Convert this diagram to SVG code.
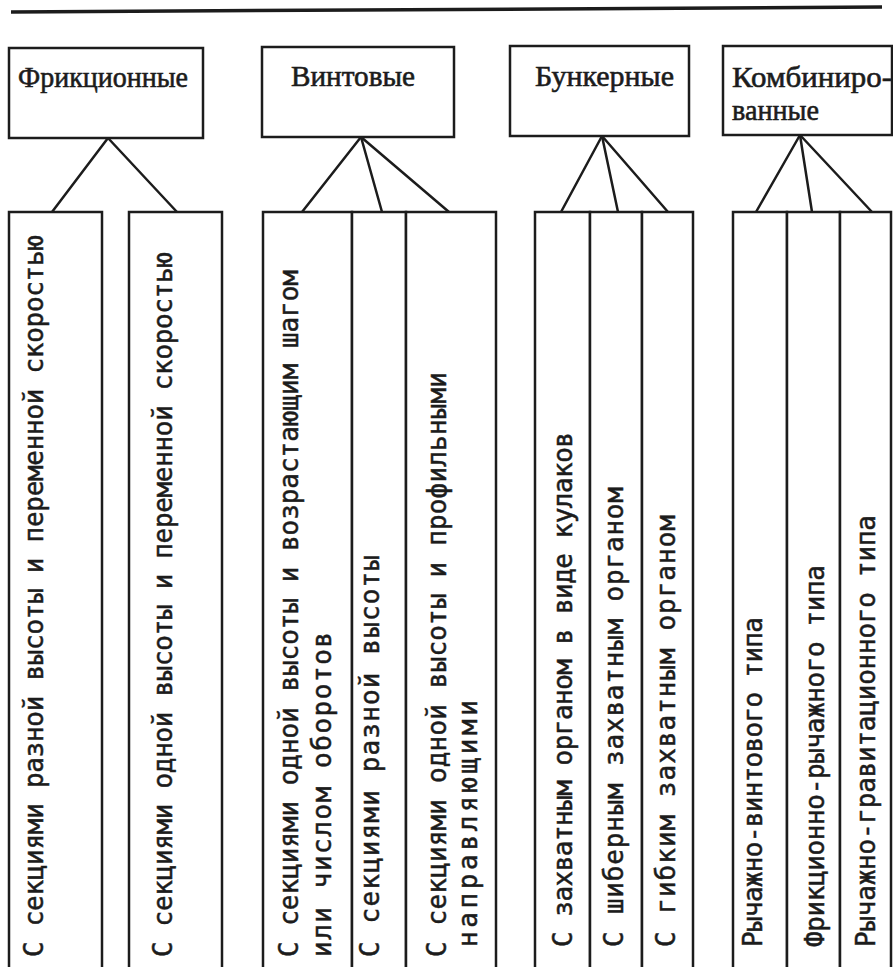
<svg xmlns="http://www.w3.org/2000/svg" width="893" height="967" viewBox="0 0 893 967">
<style>
.frame{fill:#ffffff;stroke:#1c1c1c;stroke-width:2.5}
.conn{stroke:#1c1c1c;stroke-width:2.5;fill:none;stroke-linecap:round}
.hdr{font-family:"Liberation Serif","Times New Roman",serif;font-size:30px;fill:#1c1c1c;stroke:#1c1c1c;stroke-width:0.6}
.col{font-family:"DejaVu Sans Mono","Liberation Mono",monospace;font-size:26px;fill:#1c1c1c;stroke:#1c1c1c;stroke-width:0.5}
</style>
<rect x="0" y="0" width="893" height="967" fill="#ffffff"/>
<line x1="11" y1="12" x2="882" y2="7" stroke="#1c1c1c" stroke-width="3.5"/>

<g id="connectors">
<line class="conn" x1="108" y1="138" x2="52" y2="212"/>
<line class="conn" x1="108" y1="138" x2="177" y2="212"/>
<line class="conn" x1="361" y1="137" x2="302" y2="212"/>
<line class="conn" x1="361" y1="137" x2="382" y2="212"/>
<line class="conn" x1="361" y1="137" x2="449" y2="212"/>
<line class="conn" x1="602" y1="136" x2="561" y2="212"/>
<line class="conn" x1="602" y1="136" x2="618" y2="212"/>
<line class="conn" x1="602" y1="136" x2="668" y2="212"/>
<line class="conn" x1="800" y1="135" x2="756" y2="212"/>
<line class="conn" x1="800" y1="135" x2="812" y2="212"/>
<line class="conn" x1="800" y1="135" x2="872" y2="212"/>
</g>

<g id="node-friction">
<rect class="frame" x="9" y="48" width="194" height="90"/>
<text class="hdr" x="18" y="87" textLength="170" lengthAdjust="spacingAndGlyphs">Фрикционные</text>
</g>
<g id="node-screw">
<rect class="frame" x="262" y="47" width="192" height="90"/>
<text class="hdr" x="291" y="86" textLength="124" lengthAdjust="spacingAndGlyphs">Винтовые</text>
</g>
<g id="node-bunker">
<rect class="frame" x="510" y="46" width="179" height="90"/>
<text class="hdr" x="535" y="86" textLength="139" lengthAdjust="spacingAndGlyphs">Бункерные</text>
</g>
<g id="node-combined">
<rect class="frame" x="723" y="46" width="169" height="89"/>
<text class="hdr" x="732" y="87" textLength="160" lengthAdjust="spacingAndGlyphs">Комбиниро-</text>
<text class="hdr" x="732" y="120" textLength="87" lengthAdjust="spacingAndGlyphs">ванные</text>
</g>

<g id="col-f1">
<rect class="frame" x="9" y="212" width="93" height="760"/>
<text class="col" transform="translate(43,957) rotate(-90)" textLength="722">С секциями разной высоты и переменной скоростью</text>
</g>
<g id="col-f2">
<rect class="frame" x="129" y="212" width="93" height="760"/>
<text class="col" transform="translate(172,957) rotate(-90)" textLength="705">С секциями одной высоты и переменной скоростью</text>
</g>

<g id="col-s1">
<rect class="frame" x="263" y="212" width="89" height="760"/>
<text class="col" transform="translate(298,957) rotate(-90)" textLength="687">С секциями одной высоты и возрастающим шагом</text>
<text class="col" transform="translate(331,957) rotate(-90)" textLength="325">или числом оборотов</text>
</g>
<g id="col-s2">
<rect class="frame" x="352" y="212" width="54" height="760"/>
<text class="col" transform="translate(379,957) rotate(-90)" textLength="402">С секциями разной высоты</text>
</g>
<g id="col-s3">
<rect class="frame" x="406" y="212" width="90" height="760"/>
<text class="col" transform="translate(446,957) rotate(-90)" textLength="585">С секциями одной высоты и профильными</text>
<text class="col" transform="translate(477,947) rotate(-90)" textLength="247">направляющими</text>
</g>

<g id="col-b1">
<rect class="frame" x="535" y="212" width="55" height="760"/>
<text class="col" transform="translate(572,947) rotate(-90)" textLength="515">С захватным органом в виде кулаков</text>
</g>
<g id="col-b2">
<rect class="frame" x="590" y="212" width="52" height="760"/>
<text class="col" transform="translate(623,947) rotate(-90)" textLength="460">С шиберным захватным органом</text>
</g>
<g id="col-b3">
<rect class="frame" x="642" y="212" width="51" height="760"/>
<text class="col" transform="translate(675,947) rotate(-90)" textLength="432">С гибким захватным органом</text>
</g>

<g id="col-c1">
<rect class="frame" x="733" y="212" width="54" height="760"/>
<text class="col" transform="translate(762,947) rotate(-90)" textLength="330">Рычажно-винтового типа</text>
</g>
<g id="col-c2">
<rect class="frame" x="787" y="212" width="53" height="760"/>
<text class="col" transform="translate(824,947) rotate(-90)" textLength="382">Фрикционно-рычажного типа</text>
</g>
<g id="col-c3">
<rect class="frame" x="840" y="212" width="51" height="760"/>
<text class="col" transform="translate(875,947) rotate(-90)" textLength="432">Рычажно-гравитационного типа</text>
</g>
</svg>
